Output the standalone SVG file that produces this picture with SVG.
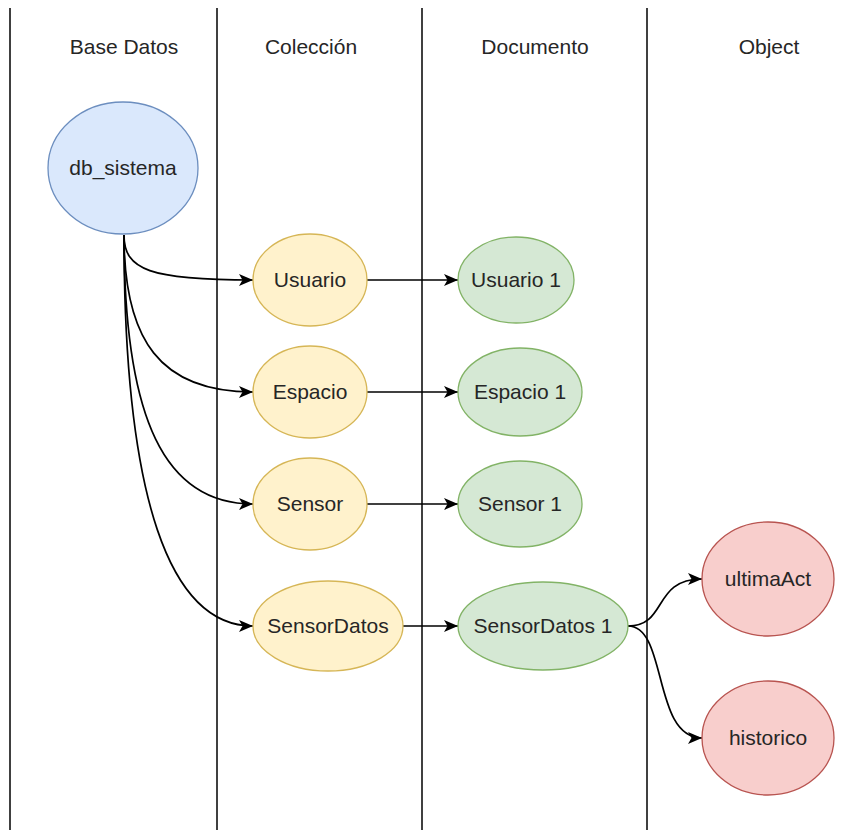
<svg xmlns="http://www.w3.org/2000/svg" width="861" height="830" viewBox="0 0 861 830">
  <style>
    text { font-family: "Liberation Sans", Arial, sans-serif; font-size: 21px; fill: #262626; text-anchor: middle; }
    .lane { stroke: #000000; stroke-width: 1.5; fill: none; }
    .edge { stroke: #000000; stroke-width: 1.7; fill: none; marker-end: url(#arrow); }
    .db { fill: #dae8fc; stroke: #6c8ebf; stroke-width: 1.3; }
    .col { fill: #fff2cc; stroke: #d6b656; stroke-width: 1.3; }
    .doc { fill: #d5e8d4; stroke: #82b366; stroke-width: 1.3; }
    .obj { fill: #f8cecc; stroke: #b85450; stroke-width: 1.3; }
  </style>
  <defs>
    <marker id="arrow" viewBox="0 0 14 12" refX="14" refY="6" markerWidth="14" markerHeight="12" markerUnits="userSpaceOnUse" orient="auto">
      <path d="M0,0 L14,6 L0,12 L3.5,6 Z" fill="#000000"/>
    </marker>
  </defs>
  <rect width="861" height="830" fill="#ffffff"/>

  <!-- lane separators -->
  <g id="lanes">
    <line class="lane" x1="10" y1="8" x2="10" y2="830"/>
    <line class="lane" x1="217" y1="8" x2="217" y2="830"/>
    <line class="lane" x1="422" y1="8" x2="422" y2="830"/>
    <line class="lane" x1="647" y1="8" x2="647" y2="830"/>
  </g>

  <!-- lane headings -->
  <g id="headers">
    <text x="124" y="54">Base Datos</text>
    <text x="311" y="54">Colección</text>
    <text x="535" y="54">Documento</text>
    <text x="769" y="54">Object</text>
  </g>

  <!-- connectors -->
  <g id="edges">
    <path class="edge" d="M124,235 C124,270 150,280 253,280"/>
    <path class="edge" d="M124,235 C124,340 160,392 253,392"/>
    <path class="edge" d="M124,235 C124,420 165,504 253,504"/>
    <path class="edge" d="M124,235 C124,500 170,626 253,626"/>
    <path class="edge" d="M367,280 L458,280"/>
    <path class="edge" d="M367,392 L458,392"/>
    <path class="edge" d="M367,504 L458,504"/>
    <path class="edge" d="M403,626 L458,626"/>
    <path class="edge" d="M628,626 C668,626 652,579 702,579"/>
    <path class="edge" d="M628,626 C668,626 652,738 702,738"/>
  </g>

  <!-- database -->
  <g id="db_sistema">
    <ellipse class="db" cx="123" cy="168" rx="75" ry="66"/>
    <text x="123" y="175">db_sistema</text>
  </g>

  <!-- collections -->
  <g id="usuario">
    <ellipse class="col" cx="310" cy="280" rx="57" ry="46"/>
    <text x="310" y="287">Usuario</text>
  </g>
  <g id="espacio">
    <ellipse class="col" cx="310" cy="392" rx="57" ry="46"/>
    <text x="310" y="399">Espacio</text>
  </g>
  <g id="sensor">
    <ellipse class="col" cx="310" cy="504" rx="57" ry="46"/>
    <text x="310" y="511">Sensor</text>
  </g>
  <g id="sensordatos">
    <ellipse class="col" cx="328" cy="626" rx="75" ry="45"/>
    <text x="328" y="633">SensorDatos</text>
  </g>

  <!-- documents -->
  <g id="usuario1">
    <ellipse class="doc" cx="516" cy="280" rx="58" ry="43"/>
    <text x="516" y="287">Usuario 1</text>
  </g>
  <g id="espacio1">
    <ellipse class="doc" cx="520" cy="392" rx="62" ry="44"/>
    <text x="520" y="399">Espacio 1</text>
  </g>
  <g id="sensor1">
    <ellipse class="doc" cx="520" cy="504" rx="62" ry="43"/>
    <text x="520" y="511">Sensor 1</text>
  </g>
  <g id="sensordatos1">
    <ellipse class="doc" cx="543" cy="626" rx="85" ry="44"/>
    <text x="543" y="633">SensorDatos 1</text>
  </g>

  <!-- objects -->
  <g id="ultimaAct">
    <ellipse class="obj" cx="768" cy="579" rx="66" ry="57"/>
    <text x="768" y="586">ultimaAct</text>
  </g>
  <g id="historico">
    <ellipse class="obj" cx="768" cy="738" rx="66" ry="57"/>
    <text x="768" y="745">historico</text>
  </g>
</svg>
